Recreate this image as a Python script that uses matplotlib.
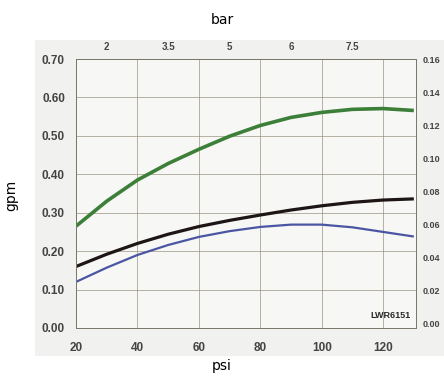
import matplotlib.pyplot as plt
from matplotlib.patches import Rectangle

# values (gpm vs psi)
psi = [20, 30, 40, 50, 60, 70, 80, 90, 100, 110, 120, 130]
green = [0.265, 0.33, 0.385, 0.428, 0.465, 0.499, 0.527, 0.548, 0.561, 0.569, 0.571, 0.566]
black = [0.160, 0.192, 0.220, 0.244, 0.264, 0.280, 0.294, 0.307, 0.318, 0.327, 0.333, 0.336]
blue = [0.120, 0.157, 0.190, 0.216, 0.237, 0.252, 0.263, 0.269, 0.269, 0.262, 0.250, 0.238]

psi_ticks = [20, 40, 60, 80, 100, 120]
gpm_ticks = [0.0, 0.1, 0.2, 0.3, 0.4, 0.5, 0.6, 0.7]
gpm_labels = ['0.00', '0.10', '0.20', '0.30', '0.40', '0.50', '0.60', '0.70']
bar_pos = [30, 50, 70, 90, 110]
bar_labels = ['2', '3.5', '5', '6', '7.5']
right_ticks = [0.0, 0.02, 0.04, 0.06, 0.08, 0.10, 0.12, 0.14, 0.16]
right_labels = ['0.00', '0.02', '0.04', '0.06', '0.08', '0.10', '0.12', '0.14', '0.16']

W, H = 444, 378
fig = plt.figure(figsize=(W / 100, H / 100), dpi=100)

# the scanned "photo" area
fig.patches.append(Rectangle((35 / W, 1 - 356 / H), (W - 35) / W, 316 / H,
                             transform=fig.transFigure, facecolor='#f1f1ef',
                             edgecolor='none', zorder=-10))

ax = fig.add_axes([76 / W, 1 - 328 / H, 340 / W, 269 / H])
ax.set_facecolor('#f7f7f5')
ax.set_xlim(20, 130.7)
ax.set_ylim(0, 0.70)

ax.plot(psi, green, color='#3c7f38', lw=2.6, solid_capstyle='butt')
ax.plot(psi, black, color='#1e1616', lw=2.3, solid_capstyle='butt')
ax.plot(psi, blue, color='#4a56a2', lw=1.6, solid_capstyle='butt')

tick_font = dict(family='Liberation Sans', weight='bold', size=8.5)
ax.set_xticks(psi_ticks)
ax.set_xticklabels([str(v) for v in psi_ticks], color='#444444', **tick_font)
ax.set_yticks(gpm_ticks)
ax.set_yticklabels(gpm_labels, color='#444444', **tick_font)
ax.tick_params(axis='x', length=0, pad=10)
ax.tick_params(axis='y', length=0, pad=8)
ax.grid(True, color='#9a9482', lw=0.5)
for s in ax.spines.values():
    s.set_color('#7a7666')
    s.set_linewidth(0.7)

ax.text(0.985, 0.03, 'LWR6151', transform=ax.transAxes, ha='right', va='bottom',
        fontsize=6.5, family='Liberation Sans', weight='bold', color='#2a2a2a')

top = ax.twiny()
top.set_xlim(ax.get_xlim())
top.set_xticks(bar_pos)
top.set_xticklabels(bar_labels, color='#444444', family='Liberation Sans',
                    weight='bold', size=7)
top.tick_params(axis='x', length=0, pad=5)

right = ax.twinx()
right.set_ylim(-0.003, 0.1606)
right.set_yticks(right_ticks)
right.set_yticklabels(right_labels, color='#444444', family='Liberation Sans',
                      weight='bold', size=6.5)
right.tick_params(axis='y', length=0, pad=5)
for a in (top, right):
    for s in a.spines.values():
        s.set_visible(False)

fig.text(222 / W, 1 - 20 / H, 'bar', ha='center', va='center', fontsize=10)
fig.text(222 / W, 1 - 366 / H, 'psi', ha='center', va='center', fontsize=10)
fig.text(11 / W, 1 - 195 / H, 'gpm', ha='center', va='center', fontsize=10, rotation=90)

fig.savefig('out.png', dpi=100)
